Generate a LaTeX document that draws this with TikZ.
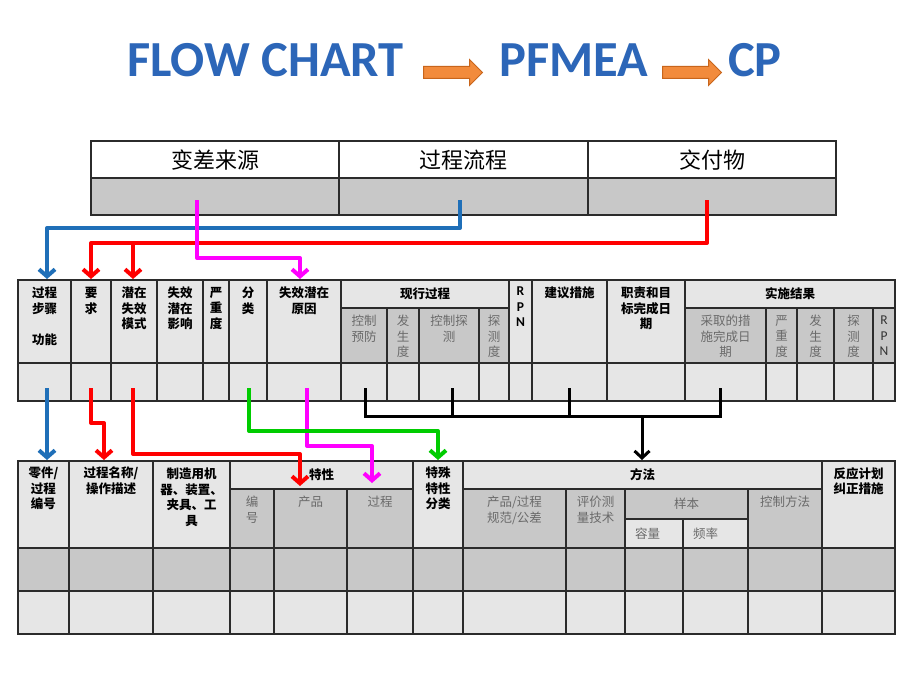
\documentclass[tikz,border=0pt]{standalone}
\usepackage{fontspec}
\setmainfont{Carlito}
\newfontfamily\cjk{Noto Sans CJK SC}
\usetikzlibrary{arrows.meta,shapes.arrows}
\definecolor{hdr}{HTML}{E6E6E6}
\definecolor{sub}{HTML}{C8C8C8}
\definecolor{tline}{HTML}{2B2B2B}
\definecolor{subtext}{HTML}{6A6A6A}
\definecolor{ttlblue}{HTML}{2C66B8}
\definecolor{orfill}{HTML}{F28B3C}
\definecolor{orline}{HTML}{C8651B}
\definecolor{cblue}{HTML}{1F6FB8}
\definecolor{cred}{HTML}{FF0000}
\definecolor{cmag}{HTML}{FF00FF}
\definecolor{cgreen}{HTML}{00CC00}
\tikzset{
  tbl/.style={draw=tline, line width=1.1pt},
  hb/.style={font=\cjk\bfseries\fontsize{12.5}{15.5}\selectfont, align=center, anchor=north, inner sep=0pt, text=black},
  sg/.style={font=\cjk\fontsize{12.5}{15.5}\selectfont, align=center, anchor=north, inner sep=0pt, text=subtext},
  rpnb/.style={font=\bfseries\fontsize{13.5}{15.5}\selectfont, align=center, anchor=north, inner sep=0pt},
  rpnr/.style={font=\fontsize{13.5}{15.5}\selectfont, align=center, anchor=north, inner sep=0pt, text=black!80},
  toptxt/.style={font=\cjk\fontsize{22}{26}\selectfont, inner sep=0pt},
  ttl/.style={font=\bfseries\fontsize{50.5}{60}\selectfont, text=ttlblue, inner sep=0pt, anchor=base west},
  barrow/.style={single arrow, draw=orline, fill=orfill, line width=1pt, inner sep=5.5pt, minimum height=59pt, single arrow head extend=7pt, anchor=west},
  conn/.style={line width=4pt, line cap=butt, line join=round, -{Straight Barb[length=7pt,width=16pt]}},
  kline/.style={line width=3pt, line cap=butt, line join=miter, draw=black},
}
\begin{document}
\begin{tikzpicture}[x=1pt,y=-1pt]
\useasboundingbox (0,0) rectangle (920,690);
\fill[white] (0,0) rectangle (920,690);

% ---------- title ----------
\node[ttl] (t1) at (127,77) {FLOW CHART};
\node[ttl] (t2) at (499,77) {PFMEA};
\node[ttl] (t3) at (728,77) {CP};
\node[barrow] (ar1) at (423,72.5) {};
\node[barrow] (ar2) at (662,72.5) {};

% ---------- top table ----------
\path[fill=white] (91,141) rectangle (836,178);
\path[fill=sub] (91,178) rectangle (836,215);
\draw[tbl] (91,141) rectangle (836,215);
\draw[tbl] (339,141) -- (339,215);
\draw[tbl] (588,141) -- (588,215);
\draw[draw=tline, line width=2.6pt] (91,178) -- (836,178);
\node[toptxt] (p1) at (215,160) {变差来源};
\node[toptxt] (p2) at (463.5,160) {过程流程};
\node[toptxt] (p3) at (712,160) {交付物};

% ---------- middle table (PFMEA) ----------
\path[tbl,fill=hdr] (18,280) rectangle (71,363);
\node[hb] (m1) at (44.5,287) {过程\\步骤\\[15.5pt]功能};
\path[tbl,fill=hdr] (71,280) rectangle (111,363);
\node[hb] (m2) at (91,287) {要\\求};
\path[tbl,fill=hdr] (111,280) rectangle (157,363);
\node[hb] (m3) at (134,287) {潜在\\失效\\模式};
\path[tbl,fill=hdr] (157,280) rectangle (203,363);
\node[hb] (m4) at (180,287) {失效\\潜在\\影响};
\path[tbl,fill=hdr] (203,280) rectangle (229,363);
\node[hb] (m5) at (216,287) {严\\重\\度};
\path[tbl,fill=hdr] (229,280) rectangle (267,363);
\node[hb] (m6) at (248,287) {分\\类};
\path[tbl,fill=hdr] (267,280) rectangle (341,363);
\node[hb] (m7) at (304,287) {失效潜在\\原因};
\path[tbl,fill=hdr] (341,280) rectangle (509,308);
\node[hb,anchor=center] (m8) at (425,294) {现行过程};
\path[tbl,fill=sub] (341,308) rectangle (387,363);
\node[sg] (m9) at (364,315) {控制\\预防};
\path[tbl,fill=sub] (387,308) rectangle (419,363);
\node[sg] (m10) at (403,315) {发\\生\\度};
\path[tbl,fill=sub] (419,308) rectangle (479,363);
\node[sg] (m11) at (449,315) {控制探\\测};
\path[tbl,fill=sub] (479,308) rectangle (509,363);
\node[sg] (m12) at (494,315) {探\\测\\度};
\path[tbl,fill=hdr] (509,280) rectangle (532,363);
\node[rpnb] (m13) at (520.5,287) {R\\P\\N};
\path[tbl,fill=hdr] (532,280) rectangle (607,363);
\node[hb] (m14) at (569.5,287) {建议措施};
\path[tbl,fill=hdr] (607,280) rectangle (685,363);
\node[hb] (m15) at (646,287) {职责和目\\标完成日\\期};
\path[tbl,fill=hdr] (685,280) rectangle (895,308);
\node[hb,anchor=center] (m16) at (790,294) {实施结果};
\path[tbl,fill=sub] (685,308) rectangle (766,363);
\node[sg] (m17) at (725.5,315) {采取的措\\施完成日\\期};
\path[tbl,fill=sub] (766,308) rectangle (797,363);
\node[sg] (m18) at (781.5,315) {严\\重\\度};
\path[tbl,fill=sub] (797,308) rectangle (834,363);
\node[sg] (m19) at (815.5,315) {发\\生\\度};
\path[tbl,fill=sub] (834,308) rectangle (873,363);
\node[sg] (m20) at (853.5,315) {探\\测\\度};
\path[tbl,fill=sub] (873,308) rectangle (895,363);
\node[rpnr] (m21) at (884,316) {R\\P\\N};
\foreach \a/\b in {18/71,71/111,111/157,157/203,203/229,229/267,267/341,341/387,387/419,419/479,479/509,509/532,532/607,607/685,685/766,766/797,797/834,834/873,873/895}
  \path[tbl,fill=hdr] (\a,363) rectangle (\b,401);

% ---------- bottom table (CP) ----------
\path[tbl,fill=hdr] (18,461) rectangle (69,548);
\node[hb] (c1) at (43.5,467) {零件/\\过程\\编号};
\path[tbl,fill=hdr] (69,461) rectangle (153,548);
\node[hb] (c2) at (111,467) {过程名称/\\操作描述};
\path[tbl,fill=hdr] (153,461) rectangle (230,548);
\node[hb] (c3) at (191.5,468) {制造用机\\器、装置、\\夹具、工\\具};
\path[tbl,fill=hdr] (230,461) rectangle (413,489);
\node[hb,anchor=center] (c4) at (321.5,475) {特性};
\path[tbl,fill=sub] (230,489) rectangle (274,548);
\node[sg] (c5) at (252,496) {编\\号};
\path[tbl,fill=sub] (274,489) rectangle (347,548);
\node[sg] (c6) at (310.5,496) {产品};
\path[tbl,fill=sub] (347,489) rectangle (413,548);
\node[sg] (c7) at (380,496) {过程};
\path[tbl,fill=hdr] (413,461) rectangle (463,548);
\node[hb] (c8) at (438,467) {特殊\\特性\\分类};
\path[tbl,fill=hdr] (463,461) rectangle (822,489);
\node[hb,anchor=center] (c9) at (642.5,475) {方法};
\path[tbl,fill=sub] (463,489) rectangle (566,548);
\node[sg] (c10) at (514.5,496) {产品/过程\\规范/公差};
\path[tbl,fill=sub] (566,489) rectangle (625,548);
\node[sg] (c11) at (595.5,496) {评价测\\量技术};
\path[tbl,fill=sub] (625,489) rectangle (748,519);
\node[sg,anchor=center] (c12) at (686.5,504) {样本};
\path[tbl,fill=hdr] (625,519) rectangle (683,548);
\node[sg,anchor=west] (c13) at (635,533.5) {容量};
\path[tbl,fill=hdr] (683,519) rectangle (748,548);
\node[sg,anchor=west] (c14) at (693,533.5) {频率};
\path[tbl,fill=sub] (748,489) rectangle (822,548);
\node[sg] (c15) at (785,496) {控制方法};
\path[tbl,fill=hdr] (822,461) rectangle (895,548);
\node[hb] (c16) at (858.5,467) {反应计划\\纠正措施};
\foreach \a/\b in {18/69,69/153,153/230,230/274,274/347,347/413,413/463,463/566,566/625,625/683,683/748,748/822,822/895}{
  \path[tbl,fill=sub] (\a,548) rectangle (\b,591);
  \path[tbl,fill=hdr] (\a,591) rectangle (\b,634);
}

% ---------- connectors: top table -> PFMEA ----------
\coordinate (bA) at (460,200);  \coordinate (bB) at (47,279);
\coordinate (rA) at (707,200);  \coordinate (rB) at (91,279);
\coordinate (rJ) at (133,243);  \coordinate (rC) at (133,279);
\coordinate (mA) at (197,200);  \coordinate (mB) at (300,279);
\draw[conn,cblue] (bA) -- ++(0,28) -| (bB);
\draw[conn,cred] (rA) -- ++(0,43) -| (rB);
\draw[conn,cred] (rJ) -- (rC);
\draw[conn,cmag] (mA) -- ++(0,58) -| (mB);

% ---------- connectors: PFMEA -> CP ----------
\coordinate (k1) at (365,388); \coordinate (k2) at (452,388);
\coordinate (k3) at (569,388); \coordinate (k4) at (720,388);
\coordinate (kJ) at (642,416); \coordinate (kT) at (642,460);
\draw[kline] (k1) -- ++(0,28) -| (k4);
\draw[kline] (k2) -- ++(0,28);
\draw[kline] (k3) -- ++(0,28);
\draw[kline,-{Straight Barb[length=7pt,width=15pt]}] (kJ) -- (kT);

\coordinate (b2) at (47,388);  \coordinate (b3) at (47,460);
\coordinate (r3) at (91,388);  \coordinate (r4) at (104,460);
\coordinate (r5) at (133,388); \coordinate (r6) at (300,486);
\coordinate (m2) at (307,388); \coordinate (m3) at (372,483);
\coordinate (g0) at (249,388); \coordinate (g1) at (438,460);
\draw[conn,cblue] (b2) -- (b3);
\draw[conn,cred] (r3) -- ++(0,35) -| (r4);
\draw[conn,cred] (r5) -- ++(0,66) -| (r6);
\draw[conn,cmag] (m2) -- ++(0,58) -| (m3);
\draw[conn,cgreen] (g0) -- ++(0,43) -| (g1);
\end{tikzpicture}
\end{document}
